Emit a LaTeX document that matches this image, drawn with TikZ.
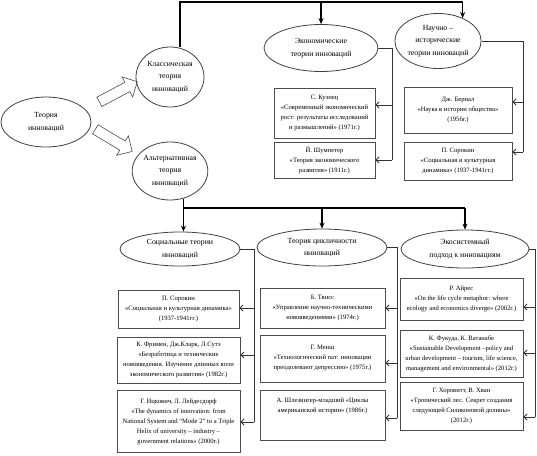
\documentclass[tikz,border=0pt]{standalone}
\usepackage{fontspec}
\setmainfont{Liberation Serif}
\usetikzlibrary{arrows.meta,shapes.geometric,shapes.arrows}
\begin{document}
\begin{tikzpicture}[x=1pt,y=-1pt,
  ell/.style={ellipse,draw=black!75,line width=0.8pt,inner sep=0pt,align=center,font=\fontsize{7.8}{12.5}\selectfont},
  bx/.style={rectangle,draw=black!70,line width=0.9pt,inner sep=0pt,align=center,font=\fontsize{6.6}{10}\selectfont},
  main/.style={draw=black,line width=1.6pt},
  mainarr/.style={main,-{Stealth[length=6pt,width=5pt]}},
  side/.style={draw=black!80,line width=0.8pt},
  sidearr/.style={side,-{Straight Barb[length=3pt,width=6pt]}},
  barrow/.style={single arrow,draw=black!70,line width=0.6pt,inner sep=5pt,minimum height=43pt,single arrow head extend=6pt}
]
\useasboundingbox (0,0) rectangle (537,455);

% left part
\node[ell,minimum width=90,minimum height=50] (th) at (46,122) {Теория\\инноваций};
\node[ell,minimum width=68,minimum height=60] (cl) at (170,77) {Классическая\\теория\\инноваций};
\node[ell,minimum width=68,minimum height=58] (al) at (170,171) {Альтернативная\\теория\\инноваций};
\node[barrow,rotate=28] (a1) at (116,93) {};
\node[barrow,rotate=-31] (a2) at (111.5,139) {};

% classical branch
\node[ell,minimum width=114,minimum height=47] (econ) at (321,48) {Экономические\\теории инноваций};
\node[ell,minimum width=82,minimum height=55] (nau) at (438,41) {Научно –\\исторические\\теории инноваций};

\node[bx,minimum width=101,minimum height=50] (kuz) at (324.5,113) {С. Кузнец\\«Современный экономический\\рост: результаты исследований\\и размышлений» (1971г.)};
\node[bx,minimum width=101,minimum height=36] (sch) at (324.5,160) {Й. Шумпетер\\«Теория экономического\\развития» (1911г.)};
\node[bx,minimum width=108,minimum height=46] (ber) at (458,110) {Дж. Бернал\\«Наука в истории общества»\\(1956г.)};
\node[bx,minimum width=108,minimum height=38] (sor1) at (458,161) {П. Сорокин\\«Социальная и культурная\\динамика» (1937-1941гг.)};

\coordinate (t1) at (180,2);
\coordinate (t2) at (nau.43 |- t1);
\draw[main] (cl.north -| t1) -- (t1) -- (t2);
\draw[mainarr] (econ.north |- t1) -- (econ.north);
\draw[mainarr] (t2) -- (nau.43);

\coordinate (er) at (392,48);
\draw[side] (econ.east) -- (er) -- (er |- 0,160);
\draw[sidearr] (er |- 0,105) -- (kuz.east |- 0,105);
\draw[sidearr] (er |- 0,160) -- (sch.east |- 0,160);
\coordinate (nr) at (523,41);
\draw[side] (nau.east) -- (nr) -- (nr |- 0,152);
\draw[sidearr] (nr |- 0,102) -- (ber.east |- 0,102);
\draw[sidearr] (nr |- 0,152) -- (sor1.east |- 0,152);

% alternative branch
\node[ell,minimum width=120,minimum height=34] (soc) at (180,249) {Социальные теории\\инноваций};
\node[ell,minimum width=130,minimum height=37] (cyc) at (322,247.5) {Теория цикличности\\инноваций};
\node[ell,minimum width=128,minimum height=38] (eco) at (465,249) {Экосистемный\\подход к инновациям};

\coordinate (m1) at (al.-64 |- 0,208);
\coordinate (m3) at (eco.north |- m1);
\draw[main] (al.-64) -- (m1) -- (m3);
\draw[mainarr] (m1) -- (soc.north -| m1);
\draw[mainarr] (cyc.north |- m1) -- (cyc.north);
\draw[mainarr] (m3) -- (eco.north);

% social boxes
\node[bx,minimum width=121,minimum height=38] (s1) at (178.5,309) {П. Сорокин\\«Социальная и культурная динамика»\\(1937-1941гг.)};
\node[bx,minimum width=123,minimum height=46] (s2) at (178.5,360) {К. Фримен, Дж.Кларк, Л.Сутэ\\«Безработица и технические\\нововведения. Изучение длинных волн\\экономического развития» (1982г.)};
\node[bx,minimum width=123,minimum height=62] (s3) at (178.5,421.5) {Г. Ицкович, Л. Лейдесдорф\\«The dynamics of innovation: from\\National System and “Mode 2” to a Triple\\Helix of university – industry –\\government relations» (2000г.)};
\coordinate (sr) at (254,249);
\draw[side] (soc.east) -- (sr) -- (sr |- 0,422);
\draw[sidearr] (sr |- 0,308) -- (s1.east |- 0,308);
\draw[sidearr] (sr |- 0,355) -- (s2.east |- 0,355);
\draw[sidearr] (sr |- 0,422) -- (s3.east |- 0,422);

% cyclic boxes
\node[bx,minimum width=125,minimum height=40] (c1) at (322.5,308) {Б. Твисс\\«Управление научно-техническими\\нововведениями» (1974г.)};
\node[bx,minimum width=125,minimum height=47] (c2) at (322.5,358.5) {Г. Менш\\«Технологический пат: инновации\\преодолевают депрессию» (1975г.)};
\node[bx,minimum width=125,minimum height=50] (c3) at (322.5,415) {А. Шлезингер-младший «Циклы\\американской истории» (1986г.)\\ ~\\ ~};
\coordinate (cr) at (397,247.5);
\draw[side] (cyc.east) -- (cr) -- (cr |- 0,418);
\draw[sidearr] (cr |- 0,308) -- (c1.east |- 0,308);
\draw[sidearr] (cr |- 0,363) -- (c2.east |- 0,363);
\draw[sidearr] (cr |- 0,418) -- (c3.east |- 0,418);

% ecosystem boxes
\node[bx,minimum width=123,minimum height=42] (e1) at (461.5,299) {Р. Айрес\\«On the life cycle metaphor: where\\ecology and economics diverge» (2002г.)};
\node[bx,minimum width=123,minimum height=47] (e2) at (461.5,353.5) {К. Фукуда, К. Ватанабе\\«Sustainable Development –policy and\\urban development – tourism, life science,\\management and environmental» (2012г.)};
\node[bx,minimum width=123,minimum height=48] (e3) at (461.5,406) {Г. Хоровитт, В. Хван\\«Тропический лес. Секрет создания\\следующей Силиконовой долины»\\(2012г.)};
\coordinate (ecr) at (535,249);
\draw[side] (eco.east) -- (ecr) -- (ecr |- 0,417);
\draw[sidearr] (ecr |- 0,307) -- (e1.east |- 0,307);
\draw[sidearr] (ecr |- 0,353) -- (e2.east |- 0,353);
\draw[sidearr] (ecr |- 0,417) -- (e3.east |- 0,417);
\end{tikzpicture}
\end{document}
